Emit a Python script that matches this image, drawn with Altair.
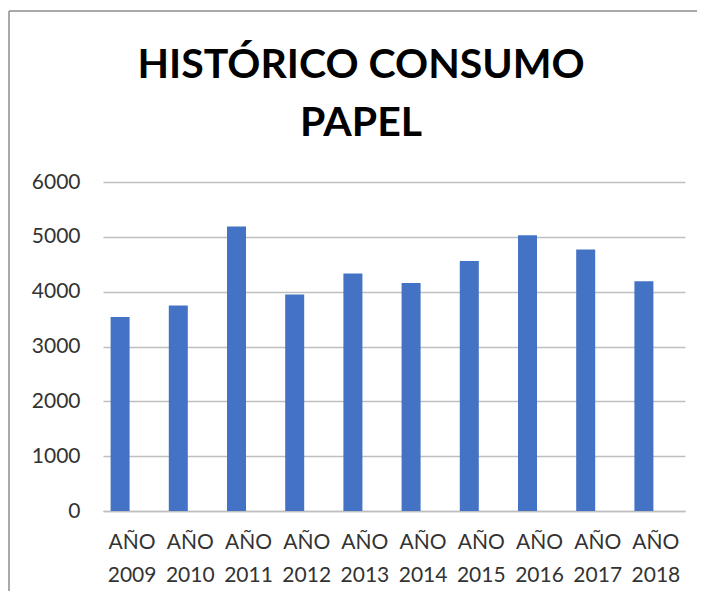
import altair as alt
import pandas as pd

years = ["AÑO 2009", "AÑO 2010", "AÑO 2011", "AÑO 2012", "AÑO 2013",
         "AÑO 2014", "AÑO 2015", "AÑO 2016", "AÑO 2017", "AÑO 2018"]
consumo = [3540, 3750, 5190, 3950, 4330, 4160, 4560, 5030, 4770, 4190]
y_ticks = [0, 1000, 2000, 3000, 4000, 5000, 6000]
title_lines = ["HISTÓRICO CONSUMO", "PAPEL"]

df = pd.DataFrame({"year": years, "value": consumo})

FONT = "Lato"

bars = alt.Chart(df).mark_bar(color="#4472C4", width=19, xOffset=-12).encode(
    x=alt.X("year:N", sort=years, title=None,
            scale=alt.Scale(paddingInner=0, paddingOuter=0),
            axis=alt.Axis(labelAngle=0, ticks=False, domain=True,
                          domainColor="#bfbfbf", domainWidth=1.3,
                          labelExpr="split(datum.label, ' ')",
                          labelFont=FONT, labelFontSize=21,
                          labelColor="#333333", labelLineHeight=33,
                          labelPadding=20, grid=False)),
    y=alt.Y("value:Q", title=None,
            scale=alt.Scale(domain=[0, 6000], nice=False),
            axis=alt.Axis(values=y_ticks, ticks=False, domain=False,
                          format="d",
                          gridColor="#bfbfbf", gridWidth=1.3,
                          labelFont=FONT, labelFontSize=21,
                          labelColor="#333333", labelPadding=23)),
)

border = alt.Chart(pd.DataFrame({"k": [0]})).mark_rule(
    color="#8c8c8c", strokeWidth=1.5
).encode(x=alt.value(-94), y=alt.value(-171), y2=alt.value(420))

border_top = alt.Chart(pd.DataFrame({"k": [0]})).mark_rule(
    color="#8c8c8c", strokeWidth=1.5
).encode(x=alt.value(-94), x2=alt.value(620), y=alt.value(-171))

chart = alt.layer(bars, border, border_top).properties(
    width=582, height=329,
    padding={"left": 95, "top": 174, "right": 12, "bottom": 80},
    autosize=alt.AutoSizeParams(type="none"),
    title=alt.TitleParams(text=title_lines, font=FONT, fontSize=41,
                          fontWeight="bold", color="#000000",
                          lineHeight=58, anchor="middle", dx=-33,
                          frame="group", offset=-135),
).configure_view(stroke=None)

chart.save("out.html", embed_options={"renderer": "svg", "actions": False})
